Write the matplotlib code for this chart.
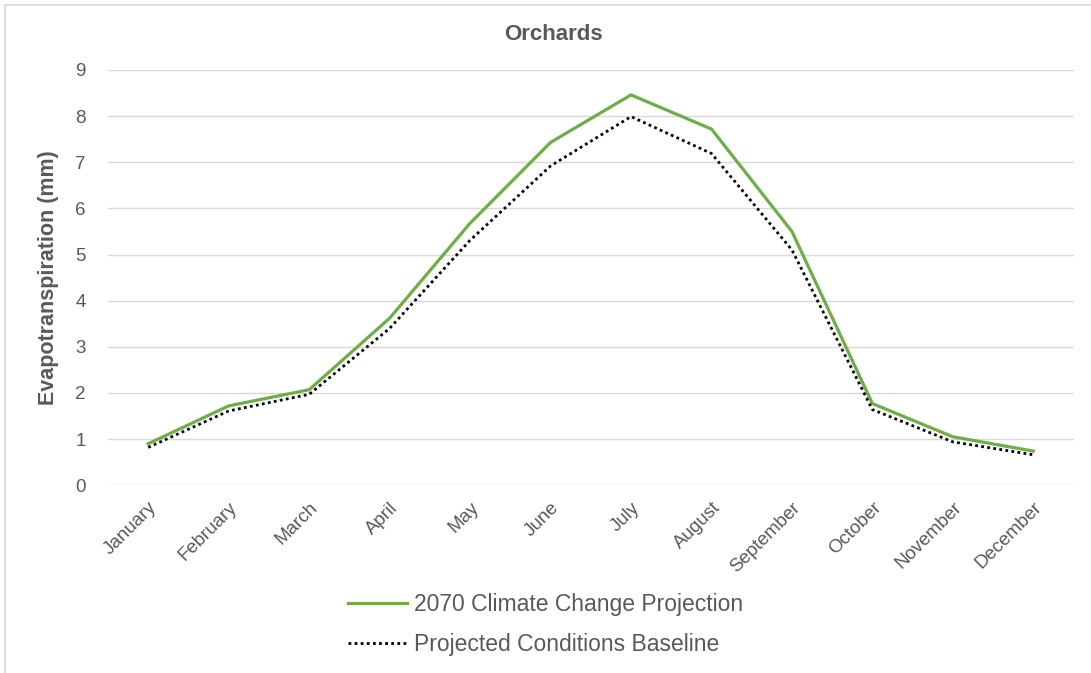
import matplotlib.pyplot as plt
from matplotlib.patches import Rectangle

# Data
months = ['January', 'February', 'March', 'April', 'May', 'June', 'July',
          'August', 'September', 'October', 'November', 'December']
climate_2070 = [0.90, 1.72, 2.07, 3.62, 5.68, 7.43, 8.46, 7.72, 5.50, 1.77, 1.05, 0.74]
baseline = [0.82, 1.61, 1.97, 3.40, 5.31, 6.92, 7.99, 7.19, 5.10, 1.64, 0.94, 0.66]

plt.rcParams['font.family'] = ['Liberation Sans', 'DejaVu Sans']
grey = '#595959'

fig = plt.figure(figsize=(10.91, 6.73), dpi=100)
ax = fig.add_axes([0.099, 0.279, 0.885, 0.617])

x = list(range(len(months)))
ax.plot(x, climate_2070, color='#70ad47', lw=2.3, label='2070 Climate Change Projection')
ax.plot(x, baseline, color='black', lw=2, ls=(0, (1, 1.2)), label='Projected Conditions Baseline')

ax.set_xlim(-0.5, 11.5)
ax.set_ylim(0, 9)
ax.set_yticks(range(10))
ax.grid(axis='y', color='#d9d9d9', lw=1)
ax.set_axisbelow(True)
for s in ax.spines.values():
    s.set_visible(False)
ax.tick_params(length=0, colors=grey, labelsize=13.5)
ax.tick_params(axis='y', pad=16)
ax.tick_params(axis='x', pad=10)
ax.set_xticks(x)
ax.set_xticklabels(months, rotation=45, ha='right', rotation_mode='anchor')

ax.set_ylabel('Evapotranspiration (mm)', fontsize=15.5, fontweight='bold', color=grey, labelpad=12)
fig.text(0.507, 0.949, 'Orchards', fontsize=16, fontweight='bold', color=grey,
         ha='center', va='center')

leg = fig.legend(loc='center', bbox_to_anchor=(0.5, 0.072), ncol=1, frameon=False,
                 fontsize=16.5, handlelength=2.6, handletextpad=0.3, labelspacing=0.75)
for t in leg.get_texts():
    t.set_color(grey)

# outer chart border
fig.patches.append(Rectangle((0.005, -0.01), 1.0, 1.002, transform=fig.transFigure,
                             fill=False, edgecolor='#d9d9d9', lw=1.2))

fig.savefig('out.png', dpi=100)
